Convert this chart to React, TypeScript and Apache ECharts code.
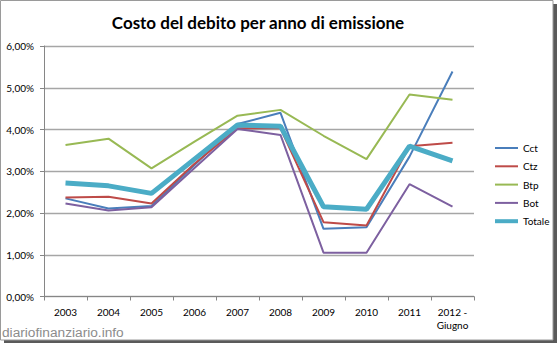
import React, { useEffect, useRef } from "react";
import * as echarts from "echarts";

const categories = ["2003", "2004", "2005", "2006", "2007", "2008", "2009", "2010", "2011", "2012 -\nGiugno"];
const cct = [2.35, 2.11, 2.17, 3.15, 4.13, 4.40, 1.62, 1.66, 3.35, 5.39];
const ctz = [2.37, 2.39, 2.23, 3.18, 4.03, 4.03, 1.78, 1.70, 3.60, 3.68];
const btp = [3.63, 3.78, 3.07, 3.71, 4.33, 4.47, 3.85, 3.29, 4.84, 4.71];
const bot = [2.23, 2.06, 2.14, 3.08, 4.01, 3.87, 1.05, 1.05, 2.69, 2.15];
const totale = [2.72, 2.65, 2.47, 3.29, 4.11, 4.08, 2.15, 2.09, 3.60, 3.25];
const legendNames = ["Cct", "Ctz", "Btp", "Bot", "Totale"];

const FONT = "Lato, 'Open Sans', sans-serif";

export default function App() {
  const ref = useRef<HTMLDivElement>(null);
  useEffect(() => {
    document.body.style.margin = "0";
    const chart = echarts.init(ref.current!, null, { renderer: "svg" });
    const mk = (name: string, data: number[], color: string, width: number) => ({
      name,
      type: "line",
      data,
      symbol: "none",
      showSymbol: false,
      lineStyle: { color, width },
      itemStyle: { color },
      emphasis: { disabled: true },
    });
    chart.setOption({
      animation: false,
      backgroundColor: "#ffffff",
      textStyle: { fontFamily: FONT },
      grid: { left: 44, right: 84, top: 46, bottom: 46.5, containLabel: false },
      xAxis: {
        type: "category",
        data: categories,
        boundaryGap: true,
        axisLine: { lineStyle: { color: "#868686", width: 1 } },
        axisTick: { show: true, length: 4, inside: false, lineStyle: { color: "#868686" } },
        axisLabel: { color: "#000", fontSize: 10, margin: 9, lineHeight: 13, fontFamily: FONT, interval: 0 },
        splitLine: { show: false },
      },
      yAxis: {
        type: "value",
        min: 0,
        max: 6,
        interval: 1,
        axisLine: { show: true, lineStyle: { color: "#868686", width: 1 } },
        axisTick: { show: true, length: 4, lineStyle: { color: "#868686" } },
        axisLabel: {
          color: "#000",
          fontSize: 10,
          margin: 10,
          fontFamily: FONT,
          formatter: (v: number) => v.toFixed(2).replace(".", ",") + "%",
        },
        splitLine: { show: true, lineStyle: { color: "#A6A6A6", width: 1.3 } },
      },
      legend: {
        orient: "vertical",
        left: 488,
        top: 138,
        itemWidth: 23,
        itemHeight: 12,
        itemGap: 8.3,
        itemStyle: { opacity: 0 },
        textStyle: { color: "#000", fontSize: 10, fontFamily: FONT },
        data: legendNames.map((n) => (n === "Totale" ? { name: n, lineStyle: { width: 4 } } : { name: n, lineStyle: { width: 2 } })),
        selectedMode: false,
      },
      graphic: [
        {
          type: "rect",
          shape: { x: 553, y: 4, width: 4, height: 339 },
          style: { fill: "#5a5a5a" },
          silent: true,
        },
        {
          type: "rect",
          shape: { x: 4, y: 340, width: 553, height: 3 },
          style: { fill: "#5a5a5a" },
          silent: true,
        },
        {
          type: "rect",
          shape: { x: 0.5, y: 0.5, width: 552.5, height: 339.5 },
          style: { fill: "none", stroke: "#9a9a9a", lineWidth: 1 },
          silent: true,
        },
        {
          type: "text",
          x: 258,
          y: 22,
          style: {
            text: "Costo del debito per anno di emissione",
            fill: "#000",
            font: `bold 17px ${FONT}`,
            textAlign: "center",
            textVerticalAlign: "middle",
          },
          silent: true,
        },
        {
          type: "text",
          x: 2,
          y: 332,
          style: {
            text: "diariofinanziario.info",
            fill: "#8c8c8c",
            font: "13.7px 'Liberation Sans', Arial, sans-serif",
            textAlign: "left",
            textVerticalAlign: "middle",
          },
          silent: true,
        },
      ],
      series: [
        mk("Cct", cct, "#4A7EBB", 2),
        mk("Ctz", ctz, "#BE4B48", 2),
        mk("Btp", btp, "#98B954", 2),
        mk("Bot", bot, "#7D60A0", 2),
        mk("Totale", totale, "#4BACC6", 5),
      ],
    });
    return () => chart.dispose();
  }, []);
  return <div ref={ref} style={{ width: 558, height: 343 }} />;
}
